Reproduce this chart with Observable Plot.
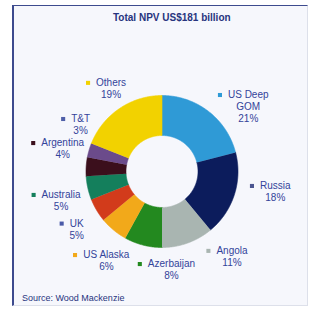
<!DOCTYPE html>
<html>
<head>
<meta charset="utf-8">
<script src="https://cdn.jsdelivr.net/npm/d3@7"></script>
<script src="https://cdn.jsdelivr.net/npm/@observablehq/plot@0.6"></script>
<style>
  html, body { margin: 0; padding: 0; background: #ffffff; }
  #wrap { position: relative; width: 315px; height: 310px; overflow: hidden; background: #ffffff; }
  #frame { position: absolute; left: 12px; top: 5px; width: 296px; height: 301px; background: #f6f7fc;
           border-left: 2px solid #3d4b8e; border-top: 1px solid #3d4b8e;
           border-right: 1px solid #dde0ea; border-bottom: 1px solid #dde0ea; box-sizing: border-box; }
  #title { position: absolute; left: 113px; top: 12px; font: bold 10px "Liberation Sans", Arial, sans-serif;
           color: #27347e; line-height: 12px; white-space: nowrap; }
  #chart { position: absolute; left: 0; top: 0; }
  #source { position: absolute; left: 22px; top: 293px; font: 9px "Liberation Sans", Arial, sans-serif;
            color: #27347e; line-height: 11px; white-space: nowrap; }
</style>
</head>
<body>
<div id="wrap">
  <div id="frame"></div>
  <div id="title">Total NPV US$181 billion</div>
  <div id="chart"></div>
  <div id="source">Source: Wood Mackenzie</div>
</div>
<script>
// ---- data ----
const categories = ["US Deep GOM", "Russia", "Angola", "Azerbaijan", "US Alaska", "UK", "Australia", "Argentina", "T&T", "Others"];
const shares = [21, 18, 11, 8, 6, 5, 5, 4, 3, 19];
const labelNames = ["US Deep\nGOM", "Russia", "Angola", "Azerbaijan", "US Alaska", "UK", "Australia", "Argentina", "T&T", "Others"];

// ---- styles ----
const wedgeColors = ["#2f9ad6", "#0c1c5c", "#a9b5b1", "#23891f", "#f2a91a", "#d23b1b", "#147f5c", "#3b0f1c", "#6b4b8b", "#f2d200"];
const markerColors = ["#2f9ad6", "#4b5590", "#a9b5b1", "#23891f", "#f2a91a", "#4a5aa8", "#147f5c", "#3b0f1c", "#4f5fa8", "#f2d200"];

// ---- layout (label placement around the ring: angle in degrees clockwise from north, distance in px) ----
const labelAngle = [53, 100, 140.5, 174.5, 212, 236, 254, 283, 300, 328.5];
const labelDist  = [108, 115, 110, 98.5, 105, 103, 105, 102, 94, 97.5];
const R = 76, r0 = 36, lineH = 12, fontSize = 10;
const textColor = "#33439a";

// pie geometry from the data
const arcs = d3.pie().sort(null).value(d => d)(shares);
const pts = [];
arcs.forEach((a, i) => {
  const n = Math.max(2, Math.ceil((a.endAngle - a.startAngle) / 0.01));
  for (let k = 0; k <= n; k++) {
    const t = a.startAngle + (a.endAngle - a.startAngle) * k / n;
    pts.push({name: categories[i], color: wedgeColors[i], x: R * Math.sin(t), y: -R * Math.cos(t)});
  }
  for (let k = n; k >= 0; k--) {
    const t = a.startAngle + (a.endAngle - a.startAngle) * k / n;
    pts.push({name: categories[i], color: wedgeColors[i], x: r0 * Math.sin(t), y: -r0 * Math.cos(t)});
  }
});

// labels
const ctx = document.createElement("canvas").getContext("2d");
ctx.font = `${fontSize}px "Liberation Sans"`;
const labels = categories.map((c, i) => {
  const a = labelAngle[i] * Math.PI / 180;
  const text = labelNames[i] + "\n" + shares[i] + "%";
  const lines = text.split("\n");
  const cx = labelDist[i] * Math.sin(a), cy = -labelDist[i] * Math.cos(a);
  const w = ctx.measureText(lines[0]).width;
  const firstY = cy - (lines.length - 1) / 2 * lineH;
  return {name: c, text, x: cx, y: cy, mx: cx - w / 2 - 8, my: firstY + 0.5, mcolor: markerColors[i]};
});

const chart = Plot.plot({
  width: 315,
  height: 310,
  margin: 0,
  style: {background: "transparent", overflow: "visible"},
  x: {domain: [-161.5, 153.5], range: [0, 315], axis: null},
  y: {domain: [-171, 139], range: [0, 310], axis: null},
  color: {type: "identity"},
  marks: [
    Plot.line(pts, {x: "x", y: "y", z: "name", fill: "color", stroke: "color", strokeWidth: 0.6, curve: "linear"}),
    Plot.text(labels, {x: "x", y: "y", text: "text", fill: textColor, fontSize, lineHeight: lineH / fontSize,
                       fontFamily: "Liberation Sans, Arial, sans-serif", textAnchor: "middle"}),
    Plot.dot(labels, {x: "mx", y: "my", fill: "mcolor", symbol: "square", r: 2.3, stroke: "none"})
  ]
});
document.getElementById("chart").appendChild(chart);
</script>
</body>
</html>
